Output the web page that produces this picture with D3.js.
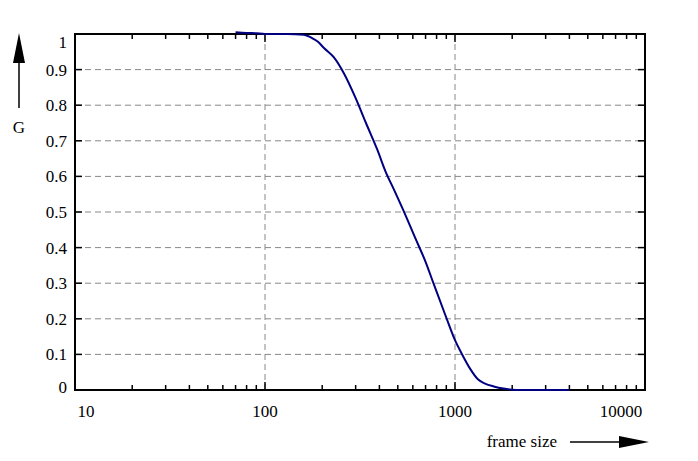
<!DOCTYPE html>
<html><head><meta charset="utf-8">
<script src="https://cdn.jsdelivr.net/npm/d3@7"></script>
<style>body{margin:0;background:#fff}text{font-family:"Liberation Serif","DejaVu Serif",serif;font-size:17px}</style>
</head><body><svg width="698" height="461"></svg>
<script>
var frameSize = [70, 80, 90, 100, 130, 160, 175, 190, 205, 230, 260, 300, 340, 390, 430, 480, 550, 620, 700, 770, 890, 1000, 1090, 1200, 1320, 1440, 1600, 1800, 2000, 2200, 2600, 3000, 3500, 4000];
var G = [1.005, 1.003, 1.002, 1.0, 1.0, 0.998, 0.99, 0.978, 0.96, 0.935, 0.89, 0.82, 0.75, 0.675, 0.615, 0.56, 0.49, 0.425, 0.36, 0.3, 0.21, 0.14, 0.1, 0.06, 0.03, 0.018, 0.01, 0.004, 0.001, 0, 0, 0, 0, 0];
var xTicks = [10, 100, 1000, 10000];
var yTicks = [0, 0.1, 0.2, 0.3, 0.4, 0.5, 0.6, 0.7, 0.8, 0.9, 1];

var svg = d3.select("svg");
var L = 75, R = 645, T = 34, B = 390;
var x = d3.scaleLog().domain([10, 10000]).range([L, R]);
var y = d3.scaleLinear().domain([0, 1]).range([B, T]);

// grid
svg.selectAll(".gy").data(yTicks.slice(1, -1)).enter().append("line")
  .attr("x1", L).attr("x2", R).attr("y1", y).attr("y2", y)
  .attr("stroke", "#888").attr("stroke-dasharray", "6,4");
svg.selectAll(".gx").data([100, 1000]).enter().append("line")
  .attr("y1", T).attr("y2", B).attr("x1", x).attr("x2", x)
  .attr("stroke", "#888").attr("stroke-dasharray", "6,4");

// minor ticks on log axis
var minor = [];
[10, 100, 1000].forEach(function(d) { for (var i = 1; i < 10; i++) minor.push(d * i); });
minor.push(10000);
svg.selectAll(".mx").data(minor).enter().append("g").each(function(d) {
  var major = xTicks.indexOf(d) >= 0, len = major ? 8 : 5;
  d3.select(this).append("line").attr("x1", x(d)).attr("x2", x(d)).attr("y1", B).attr("y2", B - len).attr("stroke", "#000").attr("stroke-width", 1.5);
  d3.select(this).append("line").attr("x1", x(d)).attr("x2", x(d)).attr("y1", T).attr("y2", T + len).attr("stroke", "#000").attr("stroke-width", 1.5);
});
svg.selectAll(".ty").data(yTicks).enter().append("g").each(function(d) {
  d3.select(this).append("line").attr("x1", L).attr("x2", L + 7).attr("y1", y(d)).attr("y2", y(d)).attr("stroke", "#000").attr("stroke-width", 1.5);
  d3.select(this).append("line").attr("x1", R).attr("x2", R - 7).attr("y1", y(d)).attr("y2", y(d)).attr("stroke", "#000").attr("stroke-width", 1.5);
});

svg.append("rect").attr("x", L).attr("y", T).attr("width", R - L).attr("height", B - T)
  .attr("fill", "none").attr("stroke", "#000").attr("stroke-width", 2);

// labels
svg.selectAll(".yl").data(yTicks).enter().append("text")
  .attr("x", L - 8).attr("y", function(d) { return d === 1 ? y(d) + 14 : d === 0 ? y(d) + 3 : y(d) + 6; })
  .attr("text-anchor", "end").text(function(d) { return d; });
svg.selectAll(".xl").data(xTicks).enter().append("text")
  .attr("x", function(d) { return d === 10 ? x(d) + 11 : d === 10000 ? x(d) - 24 : x(d); })
  .attr("y", B + 27).attr("text-anchor", "middle").text(function(d) { return d; });

// curve
var line = d3.line().x(function(d) { return x(d[0]); }).y(function(d) { return y(d[1]); }).curve(d3.curveMonotoneX);
svg.append("path").datum(d3.zip(frameSize, G)).attr("d", line)
  .attr("fill", "none").attr("stroke", "#000080").attr("stroke-width", 2);

// axis titles with arrows
svg.append("text").attr("x", 19).attr("y", 133).attr("text-anchor", "middle").text("G");
svg.append("line").attr("x1", 19).attr("x2", 19).attr("y1", 108).attr("y2", 55).attr("stroke", "#000").attr("stroke-width", 1.5);
svg.append("path").attr("d", "M19,33 L13,63 L25,63 Z").attr("fill", "#000");
svg.append("text").attr("x", 557).attr("y", 447).attr("text-anchor", "end").text("frame size");
svg.append("line").attr("x1", 570).attr("x2", 625).attr("y1", 442).attr("y2", 442).attr("stroke", "#000").attr("stroke-width", 1.5);
svg.append("path").attr("d", "M649,442 L619,436 L619,448 Z").attr("fill", "#000");
</script></body></html>
